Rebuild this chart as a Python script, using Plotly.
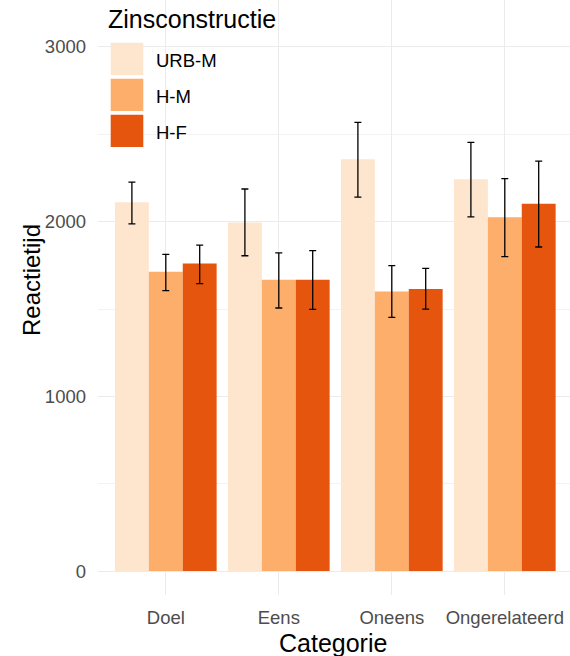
import plotly.graph_objects as go

# Mean reaction time per category and sentence construction, with error bounds
categories = ["Doel", "Eens", "Oneens", "Ongerelateerd"]
constructions = ["URB-M", "H-M", "H-F"]
colors = ["#FEE6CE", "#FDAE6B", "#E6550D"]

mean_urb_m = [2111, 1996, 2357, 2243]
upper_urb_m = [2227, 2187, 2569, 2454]
lower_urb_m = [1987, 1805, 2141, 2027]

mean_h_m = [1714, 1668, 1601, 2025]
upper_h_m = [1813, 1821, 1748, 2246]
lower_h_m = [1605, 1506, 1452, 1800]

mean_h_f = [1761, 1668, 1614, 2103]
upper_h_f = [1866, 1834, 1733, 2347]
lower_h_f = [1645, 1498, 1500, 1855]

means = [mean_urb_m, mean_h_m, mean_h_f]
uppers = [upper_urb_m, upper_h_m, upper_h_f]
lowers = [lower_urb_m, lower_h_m, lower_h_f]

W, H = 570, 656
ML, MR, MT, MB = 98, 0, 0, 61
PW, PH = W - ML - MR, H - MT - MB

FONT = "Liberation Sans, Arial, sans-serif"

fig = go.Figure()
for name, col, m, up, lo in zip(constructions, colors, means, uppers, lowers):
    fig.add_trace(go.Bar(
        x=categories, y=m, name=name, marker=dict(color=col, line=dict(width=0)),
        error_y=dict(type="data", symmetric=False,
                     array=[u - v for u, v in zip(up, m)],
                     arrayminus=[v - l for v, l in zip(m, lo)],
                     color="black", thickness=1.3, width=3.5),
        showlegend=False,
    ))


def px_x(p):
    return (p - ML) / PW


def px_y(p):
    return (H - MB - p) / PH


shapes = []
annotations = []
# legend keys drawn inside the panel
key_tops = [42.7, 78.7, 114.7]
for name, col, top in zip(constructions, colors, key_tops):
    shapes.append(dict(type="rect", xref="paper", yref="paper",
                       x0=px_x(110.7), x1=px_x(143.3),
                       y0=px_y(top + 32.3), y1=px_y(top),
                       fillcolor=col, line=dict(width=0), layer="above"))
    annotations.append(dict(text=name, xref="paper", yref="paper",
                            x=px_x(154), y=px_y(top + 17.5), xanchor="left",
                            yanchor="middle", showarrow=False,
                            font=dict(family=FONT, size=18.5, color="black")))
annotations.append(dict(text="Zinsconstructie", xref="paper", yref="paper",
                        x=px_x(106), y=px_y(19), xanchor="left", yanchor="middle",
                        showarrow=False,
                        font=dict(family=FONT, size=25, color="black")))
# axis titles
annotations.append(dict(text="Categorie", xref="paper", yref="paper",
                        x=px_x(333), y=px_y(643), xanchor="center", yanchor="middle",
                        showarrow=False,
                        font=dict(family=FONT, size=25, color="black")))
annotations.append(dict(text="Reactietijd", xref="paper", yref="paper",
                        x=px_x(31), y=px_y(280), xanchor="center", yanchor="middle",
                        textangle=-90, showarrow=False,
                        font=dict(family=FONT, size=24, color="black")))

fig.update_layout(
    width=W, height=H,
    margin=dict(l=ML, r=MR, t=MT, b=MB, pad=0),
    paper_bgcolor="white", plot_bgcolor="white",
    barmode="group", bargap=0.1, bargroupgap=0,
    font=dict(family=FONT),
    shapes=shapes, annotations=annotations,
    xaxis=dict(range=[-0.6, 3.577], showgrid=True, gridcolor="#EBEBEB", gridwidth=1,
               zeroline=False, showline=False, ticks="",
               tickfont=dict(family=FONT, size=18.5, color="#4D4D4D"),
               ticklabelstandoff=9),
    yaxis=dict(range=[-137, 3269], tickvals=[0, 1000, 2000, 3000],
               showgrid=True, gridcolor="#EBEBEB", gridwidth=1.2,
               minor=dict(tickvals=[500, 1500, 2500], showgrid=True,
                          gridcolor="#F3F3F3", gridwidth=0.8),
               zeroline=False, showline=False, ticks="",
               tickfont=dict(family=FONT, size=18.5, color="#4D4D4D"),
               ticklabelstandoff=11),
)

fig.write_html("out.html")
